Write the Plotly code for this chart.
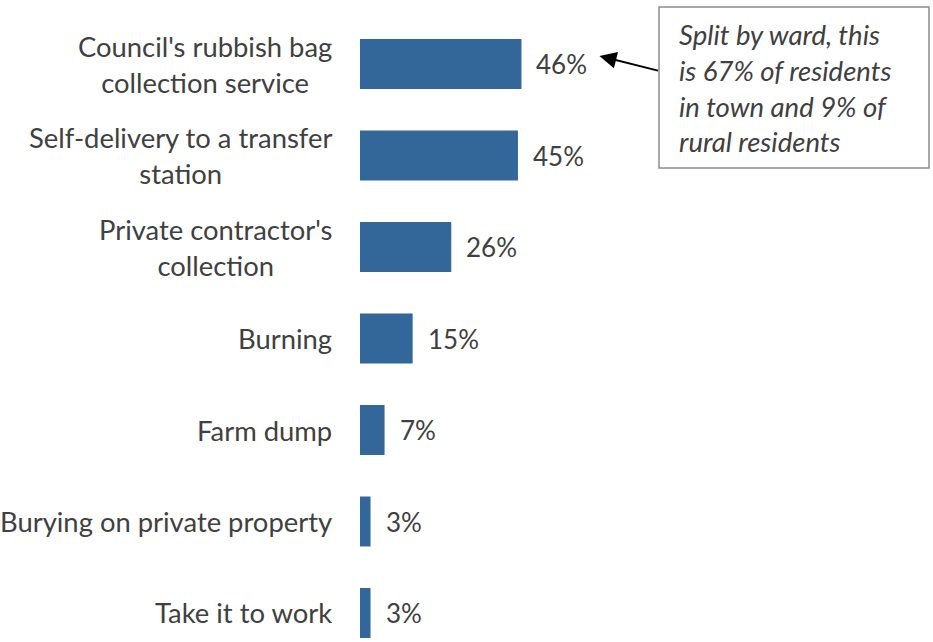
import plotly.graph_objects as go

# Household rubbish disposal methods (% of respondents)
categories = [
    "Council's rubbish bag<br>collection service",
    "Self-delivery to a transfer<br>station",
    "Private contractor's<br>collection",
    "Burning",
    "Farm dump",
    "Burying on private property",
    "Take it to work",
]
values = [46, 45, 26, 15, 7, 3, 3]
note_text = "Split by ward, this<br>is 67% of residents<br>in town and 9% of<br>rural residents"

FONT = "Lato"
TEXT_COLOR = "#404040"
BAR_COLOR = "#336699"

W, H = 933, 642
L, R, T, B = 360, 222, 0, 0
plot_w = W - L - R

ypos = list(range(len(categories)))

fig = go.Figure(
    go.Bar(
        x=values,
        y=ypos,
        orientation="h",
        marker=dict(color=BAR_COLOR, line=dict(width=0)),
        width=0.546,
        hoverinfo="skip",
    )
)

annotations = []
# category labels, centred lines, right-aligned block next to the bars
for i, c in enumerate(categories):
    annotations.append(dict(
        x=0, xref="paper", y=i, yref="y",
        text=c, showarrow=False, xanchor="right", yanchor="middle",
        align="center", xshift=-26,
        font=dict(family=FONT, size=27.4, color=TEXT_COLOR),
    ))
# value labels
for i, v in enumerate(values):
    annotations.append(dict(
        x=v, xref="x", y=i, yref="y",
        text=f"{v}%", showarrow=False, xanchor="left", yanchor="middle",
        xshift=13,
        font=dict(family=FONT, size=26, color=TEXT_COLOR),
    ))

# call-out note
box_x0, box_x1 = (659 - L) / plot_w, (929 - L) / plot_w
box_y1, box_y0 = 1 - 7 / H, 1 - 168 / H
annotations.append(dict(
    x=(677 - L) / plot_w, xref="paper",
    y=(box_y0 + box_y1) / 2, yref="paper",
    text=note_text, showarrow=False, xanchor="left", yanchor="middle",
    align="left",
    font=dict(family=FONT, size=27.5, color=TEXT_COLOR, style="italic"),
))
# arrow from the note to the top value label
annotations.append(dict(
    x=values[0], xref="x", y=0, yref="y",
    text="", showarrow=True, arrowhead=2, arrowsize=1.7, arrowwidth=2,
    arrowcolor="black", ax=60, ay=15, xshift=78, yshift=8, standoff=0,
))

fig.update_layout(
    width=W, height=H,
    margin=dict(l=L, r=R, t=T, b=B),
    paper_bgcolor="white", plot_bgcolor="white",
    showlegend=False,
    xaxis=dict(range=[0, 100], visible=False, fixedrange=True),
    yaxis=dict(range=[6.317, -0.6995], visible=False, fixedrange=True),
    annotations=annotations,
    shapes=[dict(
        type="rect", xref="paper", yref="paper",
        x0=box_x0, x1=box_x1, y0=box_y0, y1=box_y1,
        line=dict(color="#8c8c8c", width=1.5), fillcolor="rgba(0,0,0,0)",
        layer="above",
    )],
)

fig.write_html("out.html", config={"displayModeBar": False})
